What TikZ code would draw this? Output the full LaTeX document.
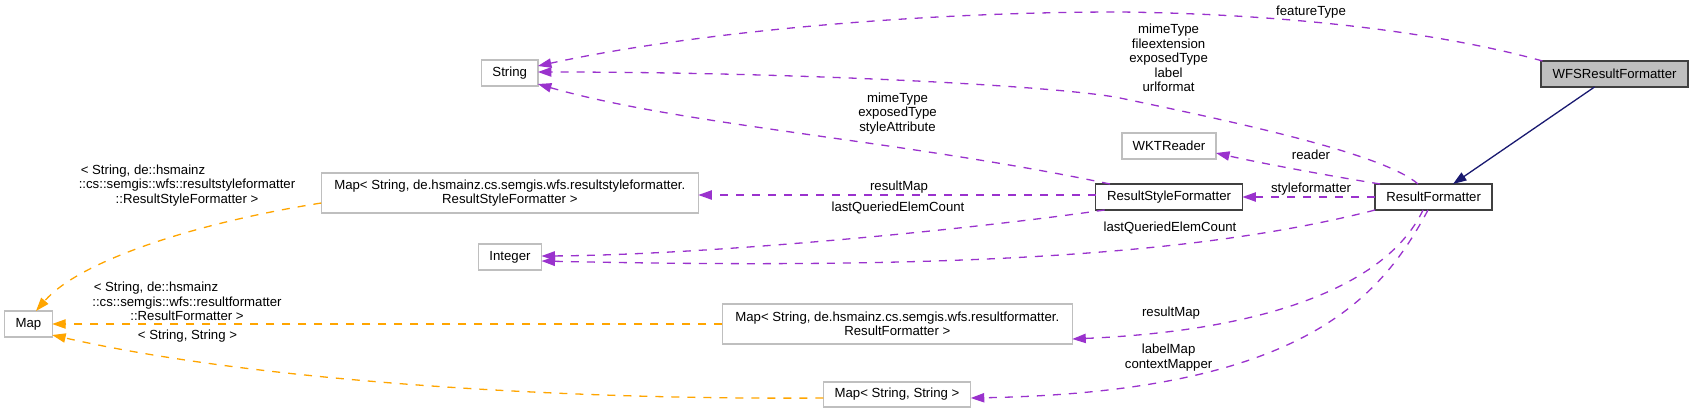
\documentclass[tikz,border=0pt]{standalone}
\usepackage{fontspec}
\setmainfont{Liberation Sans}
\usetikzlibrary{arrows.meta}
\definecolor{edgepurple}{HTML}{9A32CD}
\definecolor{edgeorange}{HTML}{FFA500}
\definecolor{edgenavy}{HTML}{191970}
\definecolor{boxgray}{HTML}{BFBFBF}
\definecolor{boxdark}{HTML}{404040}
\begin{document}
\begin{tikzpicture}[x=1pt,y=-1pt,
  every node/.style={font=\fontsize{13.2}{14.5}\selectfont, inner sep=0pt, outer sep=0pt},
  graybox/.style={draw=boxgray, line width=1.3pt, fill=white, minimum height=26pt, align=center},
  darkbox/.style={draw=boxdark, line width=1.4pt, fill=white, minimum height=26pt},
  mainbox/.style={draw=boxdark, line width=1.4pt, fill=boxgray, minimum height=26pt},
  arrowtip/.style={-{Triangle[length=13.5pt,width=9.3pt]}},
  usedge/.style={draw=edgepurple, line width=1.3pt, dash pattern=on 8pt off 8pt, arrowtip, fill=none},
  tmpledge/.style={draw=edgeorange, line width=1.3pt, dash pattern=on 8pt off 8pt, arrowtip, fill=none},
  inhedge/.style={draw=edgenavy, line width=1.3pt, arrowtip},
  lbl/.style={align=center},
]
\useasboundingbox (0,0) rectangle (1693,413);

% nodes
\node[mainbox, minimum width=147pt] (wfs) at (1614.5,74) {WFSResultFormatter};
\node[darkbox, minimum width=117pt] (rf) at (1433.6,197) {ResultFormatter};
\node[darkbox, minimum width=146.7pt] (rsf) at (1169,197) {ResultStyleFormatter};
\node[graybox, minimum width=94pt] (wkt) at (1169,146) {WKTReader};
\node[graybox, minimum width=56.3pt] (string) at (509.7,73) {String};
\node[graybox, minimum width=377pt, minimum height=40pt] (maprsf) at (509.8,193) {Map< String, de.hsmainz.cs.semgis.wfs.resultstyleformatter.\\ResultStyleFormatter >};
\node[graybox, minimum width=63pt] (integer) at (510,257) {Integer};
\node[graybox, minimum width=47.5pt] (map) at (28.4,324) {Map};
\node[graybox, minimum width=350pt, minimum height=40pt] (maprf) at (897.3,324) {Map< String, de.hsmainz.cs.semgis.wfs.resultformatter.\\ResultFormatter >};
\node[graybox, minimum width=147.5pt, minimum height=25pt] (mapss) at (897,394.5) {Map< String, String >};

% edges
\draw[usedge] ([xshift=1.5pt]wfs.north west) .. controls (1450,35) and (1300,14) .. (1120,12) .. controls (900,12) and (680,35) .. ([yshift=7pt]string.east);
\draw[usedge] ([xshift=-15.6pt]rf.north) .. controls (1385,155) and (1250,125) .. (1120,98) .. controls (1060,86) and (800,72) .. ([yshift=1pt]string.east);
\draw[usedge] ([xshift=14.3pt]rsf.north west) .. controls (900,140) and (680,125) .. ([yshift=2pt]string.south east);
\draw[usedge] ([yshift=2pt]rsf.west) -- ([yshift=-2pt]maprsf.east);
\draw[usedge] ([xshift=9pt]rsf.south west) .. controls (950,232) and (700,255) .. ([yshift=1pt]integer.east);
\draw[usedge] (rf.south west) .. controls (1200,255) and (950,270) .. ([yshift=-4pt]integer.east);
\draw[usedge] ([xshift=5pt]rf.north west) .. controls (1330,176) and (1260,163) .. ([yshift=-7pt]wkt.east);
\draw[usedge] (rf.west) -- (rsf.east);
\draw[inhedge] ([xshift=-20pt]wfs.south) -- ([xshift=19.4pt]rf.north);
\draw[usedge] ([xshift=-10.6pt]rf.south) .. controls (1390,280) and (1280,330) .. ([yshift=-15pt]maprf.east);
\draw[usedge] ([xshift=-5.6pt]rf.south) .. controls (1380,300) and (1300,392) .. ([yshift=-3.5pt]mapss.east);
\draw[tmpledge] ([yshift=10pt]maprsf.south west) .. controls (200,222) and (80,260) .. ([xshift=7.6pt]map.north);
\draw[tmpledge] (maprf.west) -- (map.east);
\draw[tmpledge] ([yshift=-3.5pt]mapss.west) .. controls (550,400) and (250,380) .. ([yshift=2pt]map.south east);

% labels
\node[lbl] (l1) at (1311,12) {featureType};
\node[lbl] (l2) at (1168.6,58) {mimeType\\fileextension\\exposedType\\label\\urlformat};
\node[lbl] (l3) at (897.5,113.5) {mimeType\\exposedType\\styleAttribute};
\node (l4) at (899,187) {resultMap};
\node (l5) at (898,208) {lastQueriedElemCount};
\node (l6) at (1311,155) {reader};
\node (l7) at (1311,189) {styleformatter};
\node (l8) at (1170,228) {lastQueriedElemCount};
\node (l9) at (1171,313) {resultMap};
\node[lbl] (l10) at (1168.6,357.5) {labelMap\\contextMapper};
\node[lbl] (l11) at (187,185.3) {< String, de::hsmainz\hspace*{88pt}\\::cs::semgis::wfs::resultstyleformatter\\::ResultStyleFormatter >};
\node[lbl] (l12) at (187,301.3) {< String, de::hsmainz\hspace*{62pt}\\::cs::semgis::wfs::resultformatter\\::ResultFormatter >};
\node (l13) at (187.5,336) {< String, String >};
\end{tikzpicture}
\end{document}
